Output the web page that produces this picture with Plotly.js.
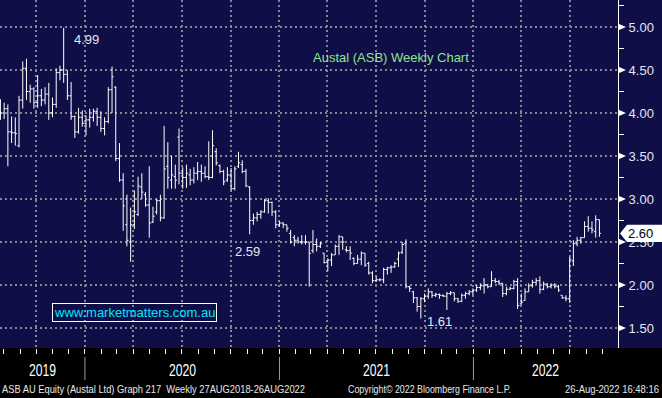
<!DOCTYPE html>
<html>
<head>
<meta charset="utf-8">
<script src="https://cdn.plot.ly/plotly-3.0.1.min.js"></script>
<style>
html,body{margin:0;padding:0;background:#000;}
#chart{width:662px;height:398px;}
</style>
</head>
<body>
<div id="chart"></div>
<script>
// Weekly bars, first bar week ending Fri 26-Jul-2019, last 26-Aug-2022
var firstWeek = '2019-07-26';
var opens = [4.12,4.00,4.05,3.78,3.77,3.62,4.15,4.52,4.25,4.28,4.12,4.20,4.15,4.22,4.00,4.10,4.47,4.50,4.45,4.20,
3.96,3.78,3.95,3.88,3.92,3.95,4.02,3.95,3.82,3.90,4.27,4.30,3.47,3.22,2.70,2.50,2.70,2.82,3.14,3.05,
2.93,2.73,2.85,2.98,2.78,3.38,3.22,3.26,3.72,3.30,3.25,3.28,3.22,3.30,3.32,3.30,3.26,3.25,3.55,3.39,
3.32,3.22,3.28,3.12,3.38,3.40,3.32,3.14,2.75,2.78,2.82,2.85,2.98,2.96,2.85,2.70,2.72,2.70,2.60,2.55,
2.52,2.50,2.50,2.50,2.40,2.47,2.45,2.37,2.26,2.29,2.35,2.45,2.56,2.41,2.40,2.31,2.25,2.30,2.37,2.25,
2.14,2.05,2.06,2.06,2.18,2.20,2.21,2.30,2.38,2.48,1.98,1.92,1.85,1.75,1.84,1.87,1.92,1.88,1.89,1.88,
1.87,1.90,1.91,1.84,1.81,1.88,1.90,1.92,1.94,1.97,1.99,2.00,1.98,2.05,2.04,2.02,1.90,1.95,1.96,2.04,
1.78,1.82,1.92,1.99,2.03,2.05,1.95,2.01,1.98,2.00,1.98,1.88,1.85,1.84,2.28,2.48,2.52,2.55,2.68,2.66,
2.62,2.76];
var highs = [4.16,4.12,4.10,3.96,3.95,4.20,4.60,4.63,4.33,4.30,4.44,4.28,4.30,4.35,4.18,4.52,4.55,4.99,4.50,4.36,
3.97,4.06,4.03,3.97,4.05,4.05,4.06,4.02,3.95,4.30,4.54,4.31,3.65,3.30,3.05,2.90,3.10,3.26,3.30,3.08,
3.38,2.91,3.00,3.05,3.85,3.66,3.50,3.40,3.82,3.37,3.40,3.35,3.37,3.43,3.40,3.38,3.67,3.80,3.59,3.40,
3.34,3.37,3.36,3.38,3.55,3.45,3.35,3.15,2.83,2.85,2.87,3.00,3.01,2.97,2.87,2.74,2.73,2.70,2.64,2.58,
2.56,2.58,2.58,2.50,2.64,2.54,2.50,2.37,2.31,2.37,2.47,2.58,2.56,2.45,2.45,2.32,2.35,2.39,2.37,2.27,
2.16,2.10,2.08,2.20,2.21,2.23,2.27,2.39,2.50,2.53,1.99,1.93,1.86,1.86,1.90,1.96,1.93,1.91,1.90,1.89,
1.92,1.93,1.91,1.85,1.90,1.92,1.94,1.96,2.00,2.02,2.08,2.01,2.16,2.08,2.06,2.02,1.98,1.98,2.06,2.08,
1.90,1.96,2.02,2.06,2.08,2.10,2.04,2.02,2.02,2.02,2.00,1.88,1.88,2.33,2.52,2.56,2.56,2.74,2.80,2.74,
2.81,2.76];
var lows = [3.92,3.93,3.38,3.65,3.62,3.60,4.05,4.15,4.12,4.05,4.06,4.08,4.10,3.92,3.95,4.06,4.38,4.35,4.15,3.92,
3.71,3.76,3.84,3.74,3.83,3.90,3.85,3.78,3.74,3.88,4.00,3.44,3.20,2.63,2.45,2.27,2.65,2.80,3.00,2.91,
2.55,2.72,2.82,2.74,2.77,3.12,3.12,3.12,3.17,3.12,3.13,3.16,3.18,3.22,3.20,3.24,3.22,3.24,3.39,3.30,
3.16,3.20,3.10,3.10,3.36,3.30,3.14,2.59,2.70,2.74,2.77,2.84,2.83,2.80,2.66,2.68,2.66,2.62,2.48,2.45,
2.48,2.47,2.47,1.98,2.37,2.39,2.43,2.25,2.16,2.22,2.35,2.35,2.41,2.38,2.29,2.23,2.25,2.23,2.21,2.12,
2.02,2.04,2.04,2.02,2.12,2.14,2.20,2.21,2.36,1.96,1.92,1.79,1.69,1.61,1.80,1.84,1.85,1.86,1.84,1.86,
1.71,1.88,1.81,1.79,1.80,1.84,1.88,1.88,1.92,1.94,1.90,1.96,1.98,2.02,2.00,1.86,1.88,1.94,1.95,1.72,
1.77,1.82,1.92,1.97,2.01,1.90,1.94,1.96,1.96,1.96,1.92,1.84,1.81,1.79,2.22,2.45,2.48,2.55,2.62,2.60,
2.55,2.56];
var closes = [4.00,4.05,3.78,3.77,3.76,4.15,4.52,4.25,4.28,4.12,4.20,4.15,4.22,4.00,4.10,4.47,4.50,4.45,4.20,3.96,
3.78,3.95,3.88,3.92,3.95,4.02,3.95,3.82,3.90,4.27,4.42,3.47,3.22,2.92,2.52,2.70,2.85,3.15,3.08,2.93,
2.72,2.80,2.98,2.78,3.35,3.25,3.28,3.22,3.30,3.25,3.30,3.22,3.30,3.32,3.30,3.26,3.25,3.62,3.42,3.32,
3.20,3.28,3.12,3.35,3.42,3.32,3.15,2.75,2.78,2.82,2.85,2.98,2.96,2.85,2.70,2.72,2.70,2.66,2.50,2.52,
2.50,2.50,2.50,2.37,2.47,2.45,2.48,2.26,2.29,2.35,2.45,2.56,2.50,2.40,2.37,2.25,2.30,2.37,2.23,2.14,
2.05,2.06,2.06,2.18,2.20,2.21,2.25,2.37,2.47,1.98,1.96,1.85,1.75,1.84,1.87,1.92,1.88,1.89,1.88,1.87,
1.90,1.91,1.84,1.81,1.88,1.90,1.92,1.94,1.97,1.99,2.00,1.98,2.05,2.04,2.02,1.90,1.95,1.96,2.04,1.76,
1.80,1.92,1.99,2.03,2.05,1.95,2.01,1.98,2.00,1.98,1.94,1.85,1.84,2.30,2.48,2.52,2.55,2.68,2.66,2.64,
2.76,2.60];
var priceTicks = [1.50,2.00,2.50,3.00,3.50,4.00,4.50,5.00];
var yearLabels = ['2019','2020','2021','2022'];
var yearStarts = ['2020-01-01','2021-01-01','2022-01-01'];
var swingIdx = [17, 67, 113];      // labelled high, low, low
var swingType = ['high','low','low'];
var chartTitle = 'Austal (ASB) Weekly Chart';
var footerLeft = 'ASB AU Equity (Austal Ltd) Graph 217  Weekly 27AUG2018-26AUG2022';
var footerMid = 'Copyright\u00A9 2022 Bloomberg Finance L.P.';
var footerRight = '26-Aug-2022 16:48:16';
var watermark = 'www.marketmatters.com.au';

var xStart = '2019-07-25 05:00', xEnd = '2022-09-29 23:00';

function toDate(s){ return new Date(s.length > 10 ? s.replace(' ','T') + ':00Z' : s + 'T00:00:00Z'); }
function addDays(s, n){
  var d = toDate(s); d.setUTCDate(d.getUTCDate() + n);
  return d.toISOString().slice(0,10);
}
var dates = [];
for (var i = 0; i < closes.length; i++) dates.push(addDays(firstWeek, 7*i));

var navy = '#0f0e47';
var txt = '#e4e6f0';
var ff = 'Liberation Sans, Arial, sans-serif';

var traces = [{
  type: 'ohlc', x: dates, open: opens, high: highs, low: lows, close: closes,
  increasing: {line: {color: '#ffffff', width: 1}},
  decreasing: {line: {color: '#ffffff', width: 1}},
  tickwidth: 0.45, hoverinfo: 'skip', showlegend: false
}];

var shapes = [
  {type:'rect', xref:'paper', yref:'paper', x0:1, x1:1.08, y0:0, y1:1, fillcolor:navy, line:{width:0}, layer:'below'}
];
priceTicks.forEach(function(v){
  shapes.push({type:'path', xref:'paper', yref:'y', xsizemode:'pixel', ysizemode:'pixel', xanchor:1, yanchor:v,
    path:'M 0 -3.5 L 8 0 L 0 3.5 Z', fillcolor:'#ffffff', line:{width:0}});
});
yearStarts.forEach(function(d){
  shapes.push({type:'line', xref:'x', yref:'paper', x0:d, x1:d, y0:-0.026, y1:-0.092, line:{color:'#9a9a9a', width:1}});
});
var last = closes[closes.length-1];
shapes.push({type:'path', xref:'paper', yref:'y', xsizemode:'pixel', ysizemode:'pixel', xanchor:1, yanchor:last,
  path:'M 2 0 L 9 -8.7 L 44 -8.7 L 44 8.7 L 9 8.7 Z', fillcolor:'#ffffff', line:{width:0}});

// target widths (px) of the condensed Bloomberg-style bottom texts
var condensed = {};
condensed[footerLeft] = 303; condensed[footerMid] = 163; condensed[footerRight] = 94;
yearLabels.forEach(function(l){ condensed[l] = 27; });

var annotations = [];
// year labels centred in the visible span of each year
var bounds = [xStart].concat(yearStarts).concat([xEnd]);
yearLabels.forEach(function(lbl, k){
  var a = toDate(bounds[k]), b = toDate(bounds[k+1]);
  var mid = new Date((a.getTime()+b.getTime())/2).toISOString().slice(0,10);
  annotations.push({xref:'x', yref:'paper', x:mid, y:-0.066, text:lbl, showarrow:false, width:condensed[lbl]+2,
    xanchor:'center', yanchor:'middle', font:{family:ff, size:16, color:'#ffffff'}});
});
swingIdx.forEach(function(idx, k){
  if (swingType[k] === 'high') {
    annotations.push({x:dates[idx], y:highs[idx], text:highs[idx].toFixed(2), showarrow:false,
      xanchor:'left', yanchor:'top', xshift:8, yshift:-2, font:{family:ff, size:13, color:txt}});
  } else {
    annotations.push({x:dates[idx], y:lows[idx], text:lows[idx].toFixed(2), showarrow:false,
      xanchor: k===1 ? 'center' : 'left', yanchor:'top', xshift: k===1 ? -2 : 4, yshift: k===1 ? -8 : 7,
      font:{family:ff, size:13, color:txt}});
  }
});
annotations.push({xref:'paper', yref:'paper', x:0.632, y:0.836, text:chartTitle, showarrow:false,
  xanchor:'center', yanchor:'middle', font:{family:ff, size:13, color:'#8fe48f'}});
annotations.push({xref:'paper', yref:'paper', x:0.2184, y:0.1006, text:watermark, showarrow:false,
  xanchor:'center', yanchor:'middle', bordercolor:'#ffffff', borderwidth:1, borderpad:1,
  font:{family:ff, size:13, color:'#00e6ff'}});
annotations.push({xref:'paper', yref:'y', x:1, y:last, text:last.toFixed(2), showarrow:false,
  xanchor:'left', yanchor:'middle', xshift:8, font:{family:ff, size:13, color:'#000000'}});
annotations.push({xref:'paper', yref:'paper', x:153.5/618, y:-0.118, text:footerLeft, showarrow:false,
  width:condensed[footerLeft]+2, xanchor:'center', yanchor:'middle', font:{family:ff, size:11, color:'#e8e8e8'}});
annotations.push({xref:'paper', yref:'paper', x:429.5/618, y:-0.118, text:footerMid, showarrow:false,
  width:condensed[footerMid]+2, xanchor:'center', yanchor:'middle', font:{family:ff, size:11, color:'#e8e8e8'}});
annotations.push({xref:'paper', yref:'paper', x:612/618, y:-0.118, text:footerRight, showarrow:false,
  width:condensed[footerRight]+2, xanchor:'center', yanchor:'middle', font:{family:ff, size:11, color:'#e8e8e8'}});

var gridCol = '#85858f';
var layout = {
  width: 662, height: 398,
  margin: {l:0, r:44, t:0, b:50, pad:0},
  paper_bgcolor: '#000000', plot_bgcolor: navy,
  showlegend: false, dragmode: false,
  xaxis: {
    type:'date', range:[xStart, xEnd], rangeslider:{visible:false},
    dtick:'M3', tick0:'2019-10-01', showgrid:true, gridcolor:gridCol, gridwidth:2, griddash:'2px,3px',
    ticks:'outside', ticklen:5, tickcolor:'#ffffff', tickwidth:1, showticklabels:false,
    minor:{dtick:'M1', ticks:'outside', ticklen:5, tickcolor:'#ffffff', tickwidth:1, showgrid:false},
    showline:false, zeroline:false, fixedrange:true
  },
  yaxis: {
    side:'right', range:[1.267, 5.314], tickvals:priceTicks, tickformat:'.2f',
    showgrid:true, gridcolor:gridCol, gridwidth:2, griddash:'2px,3px',
    ticks:'outside', ticklen:7, tickcolor:'rgba(0,0,0,0)',
    minor:{dtick:0.25, tick0:0, ticks:'outside', ticklen:5, tickcolor:'#ffffff', tickwidth:1, showgrid:false},
    showline:true, linecolor:'#ffffff', linewidth:1, zeroline:false, fixedrange:true,
    tickfont:{family:ff, size:13, color:txt}
  },
  shapes: shapes, annotations: annotations
};
Plotly.newPlot('chart', traces, layout, {staticPlot:true, displayModeBar:false}).then(function(){
  document.querySelectorAll('#chart .annotation-text').forEach(function(t){
    var L = condensed[t.textContent];
    if (L) { t.setAttribute('textLength', L); t.setAttribute('lengthAdjust', 'spacingAndGlyphs'); }
  });
});
</script>
</body>
</html>
